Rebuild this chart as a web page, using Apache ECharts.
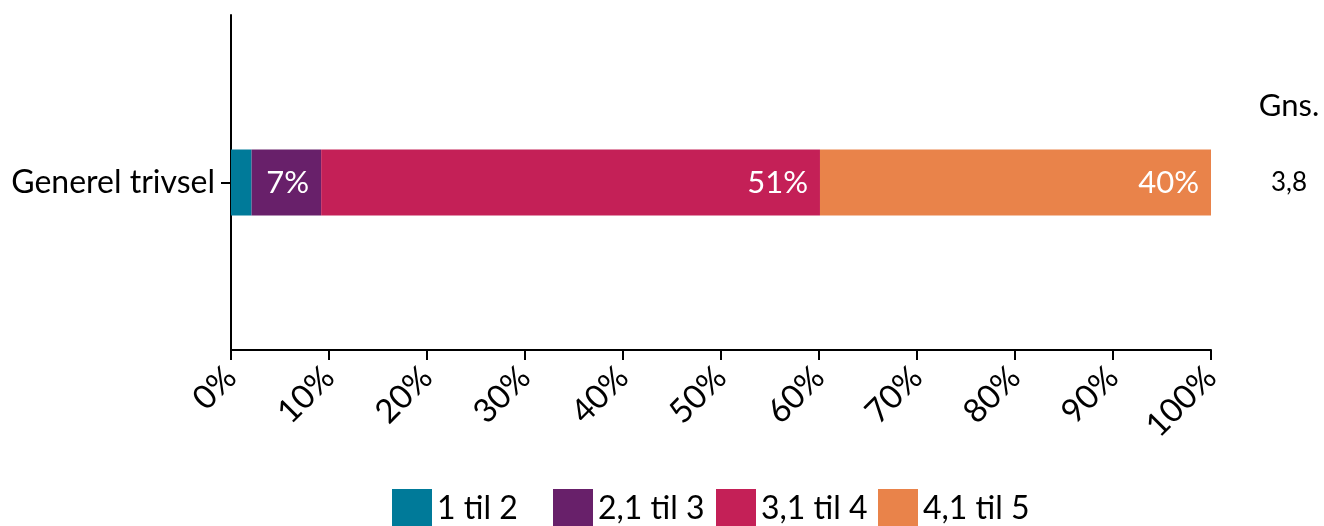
<!DOCTYPE html>
<html>
<head>
<meta charset="utf-8" />
<title>Generel trivsel</title>
<script src="https://cdn.jsdelivr.net/npm/echarts@6/dist/echarts.min.js"></script>
<style>
  html, body { margin: 0; padding: 0; background: #fff; }
  #main { width: 1324px; height: 526px; }
</style>
</head>
<body>
<div id="main"></div>
<script>
var categories = ['Generel trivsel'];
var seriesNames = ['1 til 2', '2,1 til 3', '3,1 til 4', '4,1 til 5'];
var colors = ['#007a99', '#68206a', '#c42057', '#e9834a'];
var share1 = [2.1];
var share2 = [7.1];
var share3 = [50.9];
var share4 = [39.9];
var averages = ['3,8'];

var shares = [share1, share2, share3, share4];
var font = 'Lato, "Noto Sans", sans-serif';
var legendLeft = [392, 553, 716, 878];

var chart = echarts.init(document.getElementById('main'));

var series = seriesNames.map(function (name, i) {
  return {
    name: name,
    type: 'bar',
    stack: 'total',
    barWidth: 66,
    data: shares[i],
    itemStyle: { color: colors[i] },
    label: {
      show: true,
      position: 'insideRight',
      distance: 12,
      color: '#fff',
      fontFamily: font,
      fontSize: 31,
      formatter: function (p) {
        return p.value < 5 ? '' : Math.round(p.value) + '%';
      }
    }
  };
});

// one legend per item so every item sits on the same fixed pitch
var legends = seriesNames.map(function (name, i) {
  return {
    data: [name],
    left: legendLeft[i],
    top: 489,
    padding: 0,
    icon: 'rect',
    itemWidth: 40,
    itemHeight: 40,
    textStyle: { fontFamily: font, fontSize: 32, color: '#000' }
  };
});

var option = {
  animation: false,
  grid: { left: 231, right: 113, top: 15, bottom: 176 },
  legend: legends,
  xAxis: {
    type: 'value',
    min: 0,
    max: 100,
    interval: 10,
    splitLine: { show: false },
    axisLine: { show: true, lineStyle: { color: '#000', width: 2 } },
    axisTick: { show: true, length: 10, lineStyle: { color: '#000', width: 2 } },
    axisLabel: {
      rotate: 45,
      margin: 22,
      color: '#000',
      fontFamily: font,
      fontSize: 33,
      formatter: '{value}%'
    }
  },
  yAxis: [{
    type: 'category',
    data: categories,
    axisLine: { show: true, lineStyle: { color: '#000', width: 2 } },
    axisTick: { show: true, alignWithLabel: true, length: 10, lineStyle: { color: '#000', width: 2 } },
    axisLabel: { margin: 16, color: '#000', fontFamily: font, fontSize: 32 }
  }, {
    type: 'category',
    data: averages,
    position: 'right',
    offset: 78,
    name: 'Gns.',
    nameLocation: 'end',
    nameGap: -106,
    nameTextStyle: { color: '#000', fontFamily: font, fontSize: 31, align: 'center' },
    axisLine: { show: false },
    axisTick: { show: false },
    axisLabel: { margin: 0, align: 'center', color: '#000', fontFamily: font, fontSize: 26 }
  }],
  series: series
};

chart.setOption(option);
</script>
</body>
</html>
